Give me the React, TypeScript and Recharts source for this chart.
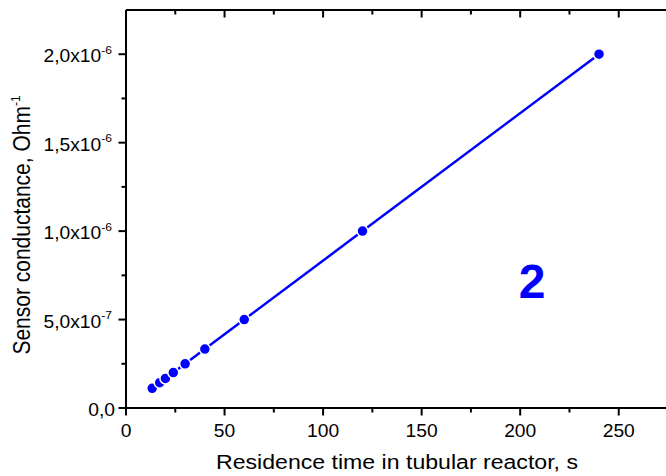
import { LineChart, Line, XAxis, YAxis } from 'recharts'

// residence time (s) and sensor conductance (Ohm^-1)
const times = [13.3, 17.1, 20, 24, 30, 40, 60, 120, 240]
const conductance = [1.11e-7, 1.43e-7, 1.67e-7, 2.0e-7, 2.5e-7, 3.33e-7, 5.0e-7, 1.0e-6, 2.0e-6]

const xTicks = [0, 25, 50, 75, 100, 125, 150, 175, 200, 225, 250, 275]
const yTicks = [0, 2.5e-7, 5e-7, 7.5e-7, 1e-6, 1.25e-6, 1.5e-6, 1.75e-6, 2e-6]

const curveLabel = '2'
const xTitle = 'Residence time in tubular reactor, s'
const yTitle = 'Sensor conductance, Ohm'

const data = times.map((t, i) => ({ t, g: conductance[i] }))

const FONT = '"Liberation Sans", Arial, sans-serif'
const BLUE = '#0000ff'

function sci(v: number) {
  if (v === 0) return { m: '0,0', e: '' }
  const e = Math.floor(Math.log10(v) + 1e-9)
  const m = (v / 10 ** e).toFixed(1).replace('.', ',')
  return { m: m + 'x10', e: String(e) }
}

const isMajorX = (v: number) => v % 50 === 0
const isMajorY = (v: number) => Math.round(v / 2.5e-7) % 2 === 0

function BottomTick(props: any) {
  const { x, y, payload } = props
  const major = isMajorX(payload.value)
  return (
    <g>
      <line x1={x} x2={x} y1={y} y2={y + (major ? 7.5 : 4.5)} stroke="#000" strokeWidth={2} />
      {major && (
        <text
          transform={`translate(${x},${y + 28.5}) scale(1.1,1)`}
          textAnchor="middle"
          fontSize={17.5}
          fontFamily={FONT}
          fill="#000"
        >
          {payload.value}
        </text>
      )}
    </g>
  )
}

function TopTick(props: any) {
  const { x, y, payload } = props
  const major = isMajorX(payload.value)
  return <line x1={x} x2={x} y1={y} y2={y + (major ? 7.5 : 4.5)} stroke="#000" strokeWidth={2} />
}

function LeftTick(props: any) {
  const { x, y, payload } = props
  const major = isMajorY(payload.value)
  const { m, e } = sci(payload.value)
  return (
    <g>
      <line x1={x} x2={x - (major ? 7.5 : 4.5)} y1={y} y2={y} stroke="#000" strokeWidth={2} />
      {major && (
        <text
          transform={`translate(${e ? x - 14 : x - 11},${y + 8}) scale(1.1,1)`}
          textAnchor="end"
          fontSize={17.5}
          fontFamily={FONT}
          fill="#000"
        >
          {m}
          {e && (
            <tspan dy={-8.5} fontSize={11}>
              {e}
            </tspan>
          )}
        </text>
      )}
    </g>
  )
}

function RightTick(props: any) {
  const { x, y, payload } = props
  const major = isMajorY(payload.value)
  return <line x1={x} x2={x - (major ? 7.5 : 4.5)} y1={y} y2={y} stroke="#000" strokeWidth={2} />
}

export default function App() {
  const axisLine = { stroke: '#000', strokeWidth: 2 }
  return (
    <div
      style={{
        position: 'fixed',
        left: 0,
        top: 0,
        width: 666,
        height: 476,
        overflow: 'hidden',
        background: '#fff',
      }}
    >
      <LineChart width={680} height={476} data={data} margin={{ top: 10, right: 12, left: 0, bottom: 0 }}>
        <XAxis
          xAxisId="bottom"
          dataKey="t"
          type="number"
          domain={[0, 275]}
          ticks={xTicks}
          interval={0}
          height={68}
          tickSize={0}
          tickMargin={0}
          tickLine={false}
          axisLine={axisLine}
          tick={<BottomTick />}
        />
        <XAxis
          xAxisId="top"
          orientation="top"
          mirror
          dataKey="t"
          type="number"
          domain={[0, 275]}
          ticks={xTicks}
          interval={0}
          height={30}
          tickSize={0}
          tickMargin={0}
          tickLine={false}
          axisLine={axisLine}
          tick={<TopTick />}
        />
        <YAxis
          yAxisId="left"
          type="number"
          domain={[0, 2.25e-6]}
          ticks={yTicks}
          interval={0}
          width={126}
          tickSize={0}
          tickMargin={0}
          tickLine={false}
          axisLine={axisLine}
          tick={<LeftTick />}
        />
        <YAxis
          yAxisId="right"
          orientation="right"
          mirror
          type="number"
          domain={[0, 2.25e-6]}
          ticks={yTicks}
          interval={0}
          width={30}
          tickSize={0}
          tickMargin={0}
          tickLine={false}
          axisLine={axisLine}
          tick={<RightTick />}
        />
        <Line
          xAxisId="bottom"
          yAxisId="left"
          dataKey="g"
          type="linear"
          stroke={BLUE}
          strokeWidth={2.5}
          dot={{ r: 5.5, fill: BLUE, stroke: '#fff', strokeWidth: 1.5 }}
          activeDot={false}
          isAnimationActive={false}
        />
      </LineChart>
      <svg
        width={666}
        height={476}
        style={{ position: 'absolute', left: 0, top: 0, pointerEvents: 'none' }}
      >
        <text
          x={532}
          y={298}
          textAnchor="middle"
          fontSize={48}
          fontWeight="bold"
          fontFamily={FONT}
          fill={BLUE}
        >
          {curveLabel}
        </text>
        <text
          transform="translate(397,469) scale(1.1,1)"
          textAnchor="middle"
          fontSize={21}
          fontFamily={FONT}
          fill="#000"
        >
          {xTitle}
        </text>
        <text
          transform="translate(30,225) scale(1.1,1) rotate(-90)"
          textAnchor="middle"
          fontSize={21}
          fontFamily={FONT}
          fill="#000"
        >
          {yTitle}
          <tspan dy={-9} fontSize={12}>
            -1
          </tspan>
        </text>
      </svg>
    </div>
  )
}
